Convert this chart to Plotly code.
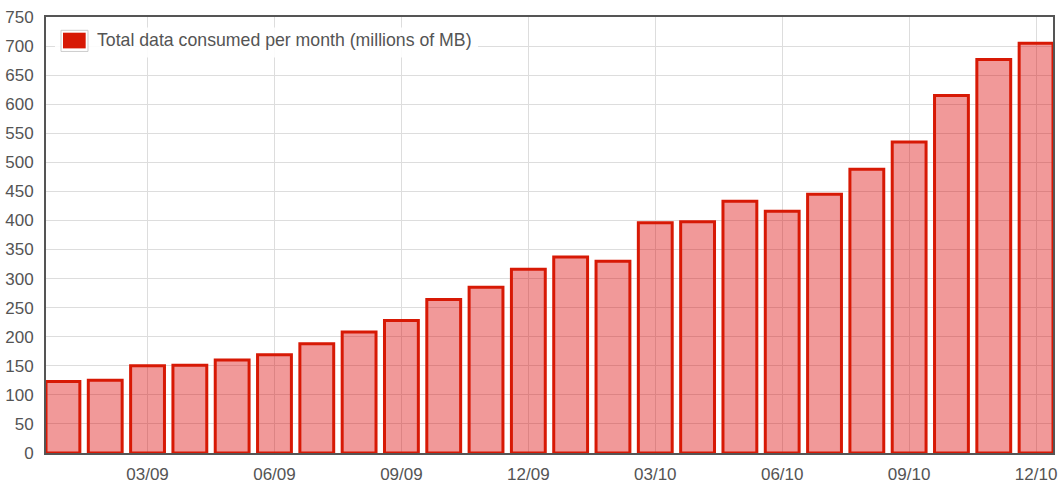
import plotly.graph_objects as go

months = ["01/09", "02/09", "03/09", "04/09", "05/09", "06/09", "07/09", "08/09",
          "09/09", "10/09", "11/09", "12/09", "01/10", "02/10", "03/10", "04/10",
          "05/10", "06/10", "07/10", "08/10", "09/10", "10/10", "11/10", "12/10"]
data_consumed = [123, 125, 150, 151, 160, 169, 188, 208, 228, 264, 285, 316,
                 337, 330, 396, 398, 433, 416, 445, 488, 535, 615, 677, 705]
x_ticks = ["03/09", "06/09", "09/09", "12/09", "03/10", "06/10", "09/10", "12/10"]
y_ticks = list(range(0, 751, 50))
series_name = "Total data consumed per month (millions of MB)"

TEXT = "#545454"
GRID = "#dddddd"
FRAME = "#555555"
RED = "rgb(215,25,5)"

fig = go.Figure()
fig.add_trace(go.Bar(
    x=months, y=data_consumed, name=series_name,
    width=0.8,
    marker=dict(color="rgba(220,0,0,0.40)", line=dict(color=RED, width=3)),
    showlegend=False,
))

# legend box (drawn with shapes + annotation to mimic the original flot legend)
fig.add_shape(type="rect", xref="paper", yref="paper",
              x0=0.0089, x1=0.429, y0=0.907, y1=0.976,
              fillcolor="rgba(255,255,255,0.9)", line=dict(width=0), layer="above")
fig.add_shape(type="rect", xref="paper", yref="paper",
              x0=0.0149, x1=0.0417, y0=0.921, y1=0.9695,
              fillcolor="white", line=dict(color="#cccccc", width=1), layer="above")
fig.add_shape(type="rect", xref="paper", yref="paper",
              x0=0.0169, x1=0.0394, y0=0.928, y1=0.964,
              fillcolor=RED, line=dict(width=0), layer="above")
fig.add_annotation(xref="paper", yref="paper", x=0.0487, y=0.9465,
                   xanchor="left", yanchor="middle", showarrow=False,
                   text=series_name, font=dict(size=17.7, color=TEXT))

fig.update_layout(
    width=1063, height=484,
    margin=dict(l=46, r=10, t=17, b=31),
    paper_bgcolor="white", plot_bgcolor="white",
    font=dict(family="Liberation Sans, Arial, sans-serif", size=17, color=TEXT),
    bargap=0.2,
    xaxis=dict(
        type="category", range=[-0.4, 23.4], automargin=False,
        tickmode="array", tickvals=x_ticks, ticktext=x_ticks,
        showgrid=True, gridcolor=GRID, gridwidth=1,
        showline=True, linecolor=FRAME, linewidth=2, mirror=True,
        ticks="", ticklabelstandoff=5, layer="below traces",
        tickfont=dict(size=17, color=TEXT),
    ),
    yaxis=dict(
        range=[0, 750], tickmode="array", tickvals=y_ticks, automargin=False,
        showgrid=True, gridcolor=GRID, gridwidth=1,
        showline=True, linecolor=FRAME, linewidth=2, mirror=True,
        ticks="", ticklabelstandoff=7, zeroline=False,
        tickfont=dict(size=17, color=TEXT),
    ),
)

fig.write_html(
    "out.html",
    config={"displayModeBar": False},
    post_script="document.body.style.margin='0';document.body.style.overflow='hidden';",
)
